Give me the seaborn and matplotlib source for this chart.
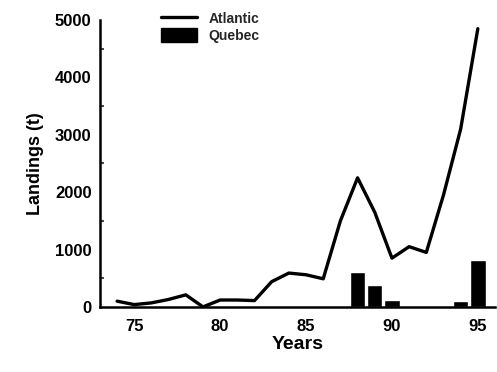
import matplotlib
matplotlib.use("Agg")
import matplotlib.pyplot as plt
import seaborn as sns
import pandas as pd
from matplotlib.lines import Line2D
from matplotlib.patches import Patch

# Data
atl_years = [74, 75, 76, 77, 78, 79, 80, 81, 82, 83, 84, 85, 86, 87, 88, 89, 90, 91, 92, 93, 94, 95]
atl_landings = [100, 40, 70, 130, 210, 0, 120, 120, 110, 440, 590, 560, 490, 1500, 2250, 1650, 850, 1050, 950, 1950, 3100, 4850]
que_years = [88, 89, 90, 94, 95]
que_landings = [600, 390, 120, 110, 820]
xticks = [75, 80, 85, 90, 95]
yticks = [0, 1000, 2000, 3000, 4000, 5000]

sns.set_theme(style="white")
plt.rcParams['font.family'] = ['Liberation Sans', 'DejaVu Sans']

fig = plt.figure(figsize=(4.97, 3.72), dpi=100)
ax = fig.add_axes([0.201, 0.175, 0.795, 0.771])

df_q = pd.DataFrame({"year": que_years, "landings": que_landings})
df_a = pd.DataFrame({"year": atl_years, "landings": atl_landings})

sns.barplot(data=df_q, x="year", y="landings", native_scale=True, width=0.9,
            color="black", saturation=1, ax=ax, zorder=2)
sns.lineplot(data=df_a, x="year", y="landings", color="black", linewidth=2.4,
             ax=ax, zorder=3)

ax.set_xlim(73, 96)
ax.set_ylim(0, 5000)
ax.set_xticks(xticks)
ax.set_xticklabels([str(t) for t in xticks])
ax.set_yticks(yticks)
ax.set_yticklabels([str(t) for t in yticks])
ax.set_yticks([500, 1500, 2500, 3500, 4500], minor=True)

for s in ["top", "right"]:
    ax.spines[s].set_visible(False)
for s in ["left", "bottom"]:
    ax.spines[s].set_color("black")
    ax.spines[s].set_linewidth(1.8)

ax.tick_params(axis="both", which="major", direction="out", length=4, width=1.5,
               color="black", labelsize=12, labelcolor="black", pad=2)
ax.tick_params(axis="x", which="major", pad=5)
ax.tick_params(axis="y", which="minor", direction="in", length=3, width=1.2, left=True)
for lab in ax.get_xticklabels() + ax.get_yticklabels():
    lab.set_fontweight("bold")

ax.set_xlabel("Years", fontsize=14, fontweight="bold", color="black", labelpad=1)
ax.set_ylabel("Landings (t)", fontsize=13, fontweight="bold", color="black", labelpad=8)

handles = [Line2D([0], [0], color="black", linewidth=2.4),
           Patch(facecolor="black", edgecolor="black")]
leg = ax.legend(handles, ["Atlantic", "Quebec"], loc="upper left",
                bbox_to_anchor=(0.13, 1.065), frameon=False,
                prop={"size": 10, "weight": "bold"}, handlelength=2.6,
                handleheight=1.2, handletextpad=0.8, labelspacing=0.15,
                borderpad=0.2)

fig.savefig("out.png", dpi=100)
